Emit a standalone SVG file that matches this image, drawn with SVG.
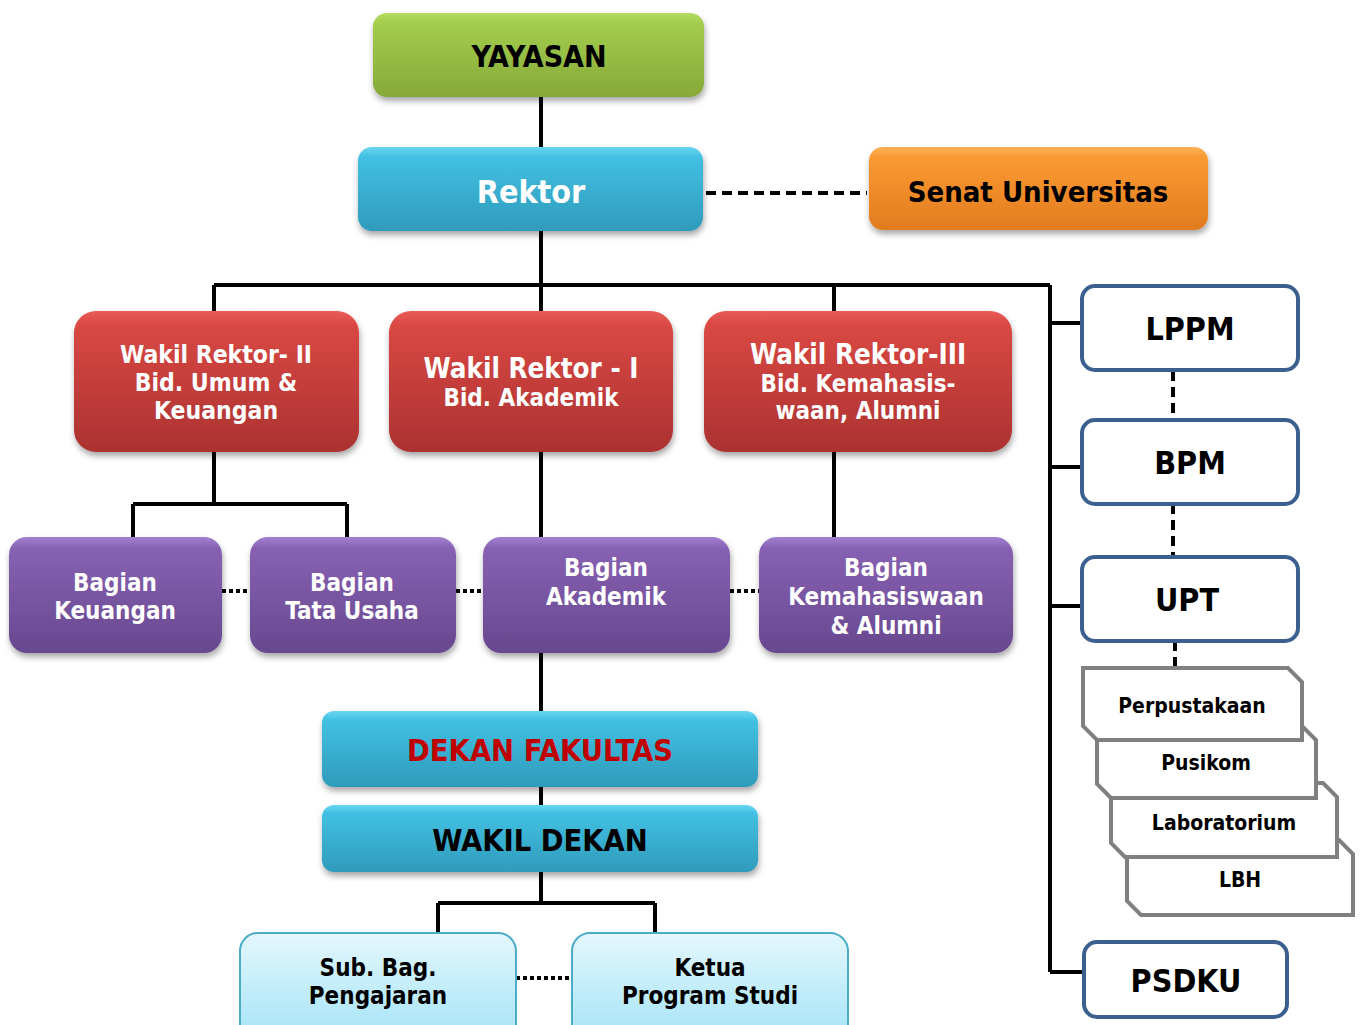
<svg xmlns="http://www.w3.org/2000/svg" width="1360" height="1025" viewBox="0 0 1360 1025">
<defs>
<linearGradient id="gGreen" x1="0" y1="0" x2="0" y2="1"><stop offset="0" stop-color="#b4dc60"/><stop offset="0.12" stop-color="#a3cd4c"/><stop offset="1" stop-color="#86a93a"/></linearGradient>
<linearGradient id="gBlue" x1="0" y1="0" x2="0" y2="1"><stop offset="0" stop-color="#6ad6f2"/><stop offset="0.12" stop-color="#42c0e2"/><stop offset="1" stop-color="#2f9bbb"/></linearGradient>
<linearGradient id="gOrange" x1="0" y1="0" x2="0" y2="1"><stop offset="0" stop-color="#ffb256"/><stop offset="0.12" stop-color="#fb9a33"/><stop offset="1" stop-color="#e27b1e"/></linearGradient>
<linearGradient id="gRed" x1="0" y1="0" x2="0" y2="1"><stop offset="0" stop-color="#ea5c58"/><stop offset="0.1" stop-color="#d94843"/><stop offset="1" stop-color="#ab3231"/></linearGradient>
<linearGradient id="gPurple" x1="0" y1="0" x2="0" y2="1"><stop offset="0" stop-color="#a27fd0"/><stop offset="0.1" stop-color="#8661b2"/><stop offset="1" stop-color="#68488f"/></linearGradient>
<linearGradient id="gLight" x1="0" y1="0" x2="0" y2="1"><stop offset="0" stop-color="#e4f7fd"/><stop offset="1" stop-color="#a3e3f7"/></linearGradient>
<filter id="sh" x="-10%" y="-10%" width="120%" height="130%"><feDropShadow dx="1" dy="4" stdDeviation="3" flood-color="#000" flood-opacity="0.35"/></filter>
<style>
.t{font-family:"DejaVu Sans Condensed","DejaVu Sans",sans-serif;font-weight:bold;text-anchor:middle;font-stretch:condensed}
.w{fill:#fff}
.k{fill:#000}
.ln{stroke:#000;stroke-width:4;fill:none}
.dash{stroke:#000;stroke-width:4;fill:none;stroke-dasharray:10,6}
.dot{stroke:#000;stroke-width:4;fill:none;stroke-dasharray:4,3}
.bl{fill:#fff;stroke:#3b6090;stroke-width:4}
.gr{fill:#fff;stroke:#808080;stroke-width:4}
</style>
</defs>
<rect width="1360" height="1025" fill="#fff"/>
<g id="connectors">
<path class="ln" d="M541 97V147M541 231V285M214 285H1050M214 285V312M541 285V312M834 285V312"/>
<path class="dash" d="M706 193H867"/>
<path class="ln" d="M1050 285V972M1050 323H1082M1052 467H1082M1050 606H1082M1050 972H1084"/>
<path class="dash" d="M1173 371V419M1173 504V556M1175 641V668"/>
<path class="ln" d="M214 452V504M133 504H347M133 504V537M347 504V537M541 452V537M834 452V537"/>
<path class="dot" d="M222 591H250M456 591H483M730 591H759"/>
<path class="ln" d="M541 653V712M541 787V805M541 872V903M438 903H655M438 903V935M655 903V934"/>
<path class="dot" d="M516 978H572"/>
</g>
<g id="yayasan"><rect x="373" y="13" width="331" height="84" rx="14" fill="url(#gGreen)" filter="url(#sh)"/><text class="t k" x="539" y="67" font-size="30">YAYASAN</text></g>
<g id="rektor"><rect x="358" y="147" width="345" height="84" rx="14" fill="url(#gBlue)" filter="url(#sh)"/><text class="t w" x="531" y="203" font-size="32">Rektor</text></g>
<g id="senat"><rect x="869" y="147" width="339" height="83" rx="14" fill="url(#gOrange)" filter="url(#sh)"/><text class="t k" x="1038" y="202" font-size="29">Senat Universitas</text></g>
<g id="wr2"><rect x="74" y="311" width="285" height="141" rx="22" fill="url(#gRed)" filter="url(#sh)"/><text class="t w" font-size="24.5"><tspan x="216" y="363">Wakil Rektor- II</tspan><tspan x="216" y="391">Bid. Umum &amp;</tspan><tspan x="216" y="419">Keuangan</tspan></text></g>
<g id="wr1"><rect x="389" y="311" width="284" height="141" rx="22" fill="url(#gRed)" filter="url(#sh)"/><text class="t w"><tspan x="531" y="378" font-size="27.5">Wakil Rektor - I</tspan><tspan x="531" y="406" font-size="24">Bid. Akademik</tspan></text></g>
<g id="wr3"><rect x="704" y="311" width="308" height="141" rx="22" fill="url(#gRed)" filter="url(#sh)"/><text class="t w"><tspan x="858" y="364" font-size="27.5">Wakil Rektor-III</tspan><tspan x="858" y="392" font-size="24">Bid. Kemahasis-</tspan><tspan x="858" y="419" font-size="24">waan, Alumni</tspan></text></g>
<g id="bag-keuangan"><rect x="9" y="537" width="213" height="116" rx="18" fill="url(#gPurple)" filter="url(#sh)"/><text class="t w" font-size="24"><tspan x="115" y="591">Bagian</tspan><tspan x="115" y="619">Keuangan</tspan></text></g>
<g id="bag-tatausaha"><rect x="250" y="537" width="206" height="116" rx="18" fill="url(#gPurple)" filter="url(#sh)"/><text class="t w" font-size="24"><tspan x="352" y="591">Bagian</tspan><tspan x="352" y="619">Tata Usaha</tspan></text></g>
<g id="bag-akademik"><rect x="483" y="537" width="247" height="116" rx="18" fill="url(#gPurple)" filter="url(#sh)"/><text class="t w" font-size="24"><tspan x="606" y="576">Bagian</tspan><tspan x="606" y="605">Akademik</tspan></text></g>
<g id="bag-kemahasiswaan"><rect x="759" y="537" width="254" height="116" rx="18" fill="url(#gPurple)" filter="url(#sh)"/><text class="t w" font-size="24"><tspan x="886" y="576">Bagian</tspan><tspan x="886" y="605">Kemahasiswaan</tspan><tspan x="886" y="634">&amp; Alumni</tspan></text></g>
<g id="dekan"><rect x="322" y="711" width="436" height="76" rx="12" fill="url(#gBlue)" filter="url(#sh)"/><text class="t" x="540" y="761" font-size="30.5" fill="#c00000">DEKAN FAKULTAS</text></g>
<g id="wakil-dekan"><rect x="322" y="805" width="436" height="67" rx="12" fill="url(#gBlue)" filter="url(#sh)"/><text class="t k" x="540" y="851" font-size="30.5">WAKIL DEKAN</text></g>
<g id="subbag"><rect x="240" y="933" width="276" height="110" rx="18" fill="url(#gLight)" stroke="#4bacc6" stroke-width="2"/><text class="t k" font-size="24"><tspan x="378" y="976">Sub. Bag.</tspan><tspan x="378" y="1004">Pengajaran</tspan></text></g>
<g id="kaprodi"><rect x="572" y="933" width="276" height="110" rx="18" fill="url(#gLight)" stroke="#4bacc6" stroke-width="2"/><text class="t k" font-size="24"><tspan x="710" y="976">Ketua</tspan><tspan x="710" y="1004">Program Studi</tspan></text></g>
<g id="lppm"><rect class="bl" x="1082" y="286" width="216" height="84" rx="13"/><text class="t k" x="1190" y="340" font-size="32">LPPM</text></g>
<g id="bpm"><rect class="bl" x="1082" y="420" width="216" height="84" rx="13"/><text class="t k" x="1190" y="474" font-size="32">BPM</text></g>
<g id="upt"><rect class="bl" x="1082" y="557" width="216" height="84" rx="13"/><text class="t k" x="1187" y="611" font-size="32">UPT</text></g>
<g id="psdku"><rect class="bl" x="1084" y="942" width="203" height="75" rx="13"/><text class="t k" x="1186" y="992" font-size="32">PSDKU</text></g>
<g id="lbh"><polygon class="gr" points="1127,840 1339,840 1353,854 1353,915 1141,915 1127,901"/><text class="t k" x="1240" y="887" font-size="21">LBH</text></g>
<g id="laboratorium"><polygon class="gr" points="1111,783 1323,783 1337,797 1337,857 1125,857 1111,843"/><text class="t k" x="1224" y="830" font-size="21">Laboratorium</text></g>
<g id="pusikom"><polygon class="gr" points="1097,726 1302,726 1316,740 1316,798 1111,798 1097,784"/><text class="t k" x="1206" y="770" font-size="21">Pusikom</text></g>
<g id="perpustakaan"><polygon class="gr" points="1083,668 1288,668 1302,682 1302,740 1097,740 1083,726"/><text class="t k" x="1192" y="713" font-size="21">Perpustakaan</text></g>
</svg>
